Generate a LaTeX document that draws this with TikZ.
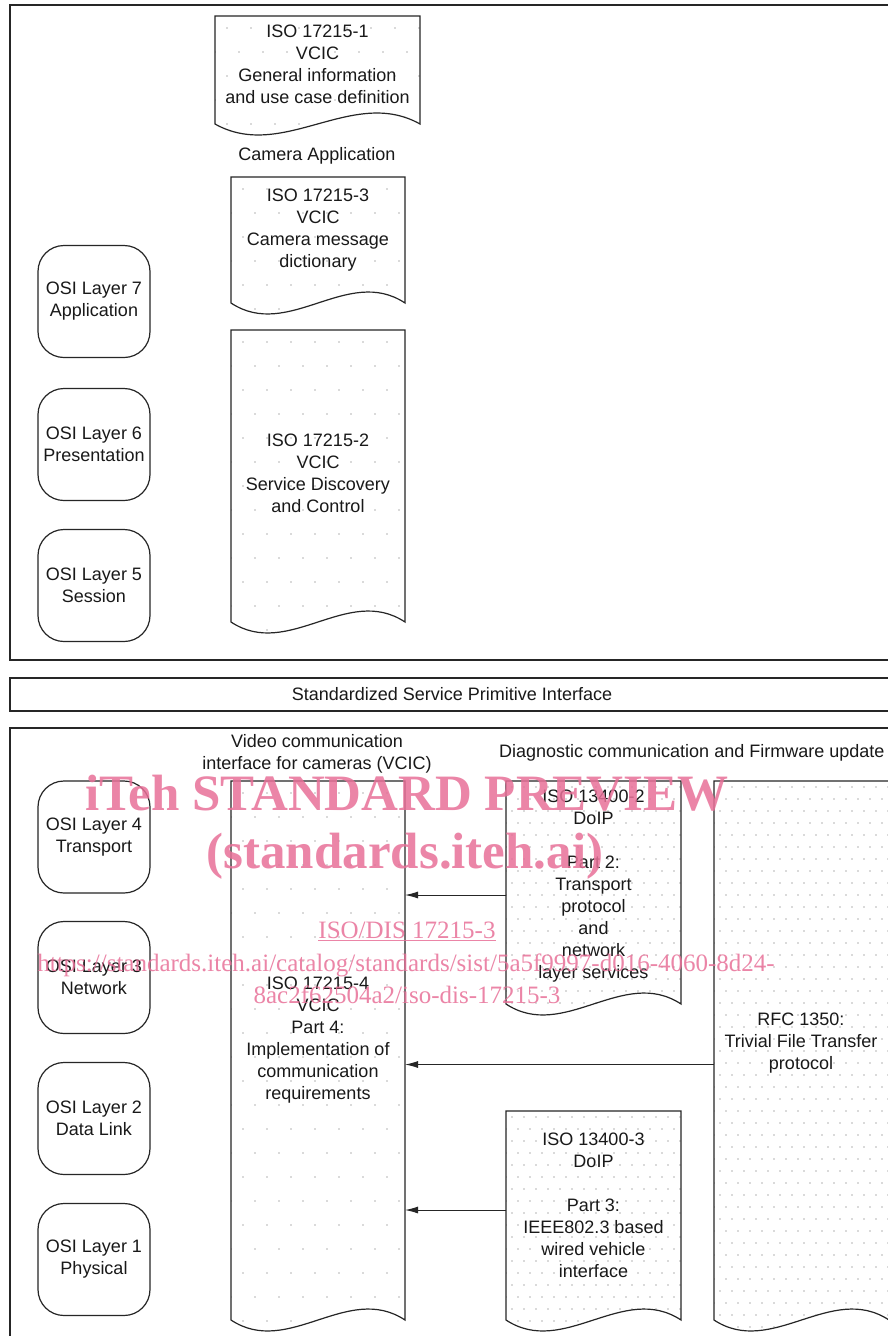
\documentclass[tikz,border=0pt]{standalone}
\usepackage{fontspec}
\setmainfont{Liberation Sans}
\newfontfamily\wmfont{Liberation Serif}
\usetikzlibrary{calc,arrows.meta}
\pgfdeclarelayer{bg}
\pgfsetlayers{bg,main}
\definecolor{ln}{gray}{0.15}
\definecolor{dotc}{gray}{0.38}
\definecolor{wm}{RGB}{232,112,152}
\tikzset{
  every node/.style={font=\fontsize{18}{22}\selectfont, text=black!90},
  osi/.style={draw=ln, line width=1.2pt, rounded corners=26pt, minimum width=112pt, minimum height=112pt, align=center, inner sep=0pt},
  docnode/.style={draw=none, inner sep=0pt, outer sep=0pt},
  doctext/.style={align=center, inner sep=0pt},
  frame/.style={draw=ln, line width=1.2pt, inner sep=0pt, outer sep=0pt},
  outline/.style={draw=ln, line width=1.2pt, line join=miter},
  arr/.style={draw=ln, line width=1pt, -{Latex[length=13pt,width=7pt]}},
  wmbig/.style={text=wm, font=\wmfont\bfseries\fontsize{51}{51}\selectfont, text opacity=0.85, inner sep=0pt},
  wmsmall/.style={text=wm, font=\wmfont\fontsize{25}{25}\selectfont, text opacity=0.85, inner sep=0pt},
  label/.style={align=center, inner sep=0pt}
}
\newcommand\docpath[1]{(#1.north west) -- (#1.north east) -- (#1.south east)
  .. controls ($(#1.south west)!0.67!(#1.south east)+(0,-38)$) and ($(#1.south west)!0.33!(#1.south east)+(0,38)$) .. (#1.south west) -- cycle}
\newcommand\mkdoc[6]{%
  \node[docnode, minimum width={(#4)-(#2)}, minimum height={(#5)-(#3)}] (#1) at ({((#2)+(#4))/2},{((#3)+(#5))/2}) {};
  \begin{pgfonlayer}{bg}
    \begin{scope}
      \clip \docpath{#1};
      \pgfmathtruncatemacro\nr{((#5)-(#3)+20)/(#6)}
      \pgfmathtruncatemacro\nc{((#4)-(#2))/(#6)+1}
      \foreach \r in {0,...,\nr}{\foreach \c in {0,...,\nc}{
        \fill[dotc] ({#2+#6/2+\c*#6-mod(\r,2)*#6/2},{#3+#6/2+\r*#6}) circle (0.6pt);}}
    \end{scope}
  \end{pgfonlayer}
  \draw[outline] \docpath{#1};
}
\begin{document}
\begin{tikzpicture}[x={(1pt,0)}, y={(0,-1pt)}]
\useasboundingbox (0,0) rectangle (888,1336);
\clip (0,0) rectangle (888,1336);
\begin{pgfonlayer}{bg}
\fill[white] (0,0) rectangle (888,1336);
\end{pgfonlayer}

% frames
\node[frame, minimum width=884pt, minimum height=655pt] (top) at (452,332.5) {};
\node[frame, minimum width=884pt, minimum height=33pt] (bar) at (452,694.5) {Standardized Service Primitive Interface};
\node[frame, minimum width=884pt, minimum height=640pt] (bot) at (452,1048) {};

% OSI layers
\node[osi] (l7) at (94,301.5) {OSI Layer 7\\Application};
\node[osi] (l6) at (94,444.5) {OSI Layer 6\\Presentation};
\node[osi] (l5) at (94,585.5) {OSI Layer 5\\Session};
\node[osi] (l4) at (94,837) {OSI Layer 4\\Transport};
\node[osi] (l3) at (94,977.5) {OSI Layer 3\\Network};
\node[osi] (l2) at (94,1118.5) {OSI Layer 2\\Data Link};
\node[osi] (l1) at (94,1259.5) {OSI Layer 1\\Physical};

% documents
\mkdoc{d1}{215}{16}{420}{124}{24}
\node[doctext] (d1t) at (317.5,64) {ISO 17215-1\\VCIC\\General information\\and use case definition};
\node[label] (cam) at (317,156) {Camera Application};
\mkdoc{d3}{231}{177}{405}{303}{24}
\node[doctext] (d3t) at (318,230.5) {ISO 17215-3\\VCIC\\Camera message\\dictionary};
\mkdoc{d2}{231}{330}{405}{622}{24}
\node[doctext] (d2t) at (318,473.5) {ISO 17215-2\\VCIC\\Service Discovery\\and Control};

\node[label] (vcic) at (317,753.5) {Video communication\\interface for cameras (VCIC)};
\node[label, anchor=west] (diag) at (499,752.5) {Diagnostic communication and Firmware update};

\mkdoc{d4}{231}{781}{405}{1320}{24}
\node[doctext] (d4t) at (318,1040.5) {ISO 17215-4\\VCIC\\Part 4:\\Implementation of\\communication\\requirements};
\mkdoc{d5}{506}{781}{681}{1004}{12}
\node[doctext] (d5t) at (593.5,886.5) {ISO 13400-2\\DoIP\\[22pt]Part 2:\\Transport\\protocol\\and\\network\\layer services};
\mkdoc{d6}{506}{1111}{681}{1320}{12}
\node[doctext] (d6t) at (593.5,1205.5) {ISO 13400-3\\DoIP\\[22pt]Part 3:\\IEEE802.3 based\\wired vehicle\\interface};
\mkdoc{d7}{714}{781}{889}{1320}{12}
\node[doctext] (d7t) at (801,1043.5) {RFC 1350:\\Trivial File Transfer\\protocol};

% arrows
\coordinate (a1) at ($(d5.west)+(0,2.5)$);
\draw[arr] (a1) -- (a1 -| d4.east);
\coordinate (a2) at ($(d7.west)+(0,14)$);
\draw[arr] (a2) -- (a2 -| d4.east);
\coordinate (a3) at ($(d6.west)+(0,-5.5)$);
\draw[arr] (a3) -- (a3 -| d4.east);

% watermark
\node[wmbig] (w1) at (407,793) {iTeh STANDARD PREVIEW};
\node[wmbig] (w2) at (405,856) {(standards.iteh.ai)};
\node[wmsmall] (w3) at (407,931) {\underline{ISO/DIS 17215-3}};
\node[wmsmall] (w4) at (406,965) {https://standards.iteh.ai/catalog/standards/sist/5a5f9997-d016-4060-8d24-};
\node[wmsmall] (w5) at (407,995) {8ac2f62504a2/iso-dis-17215-3};
\end{tikzpicture}
\end{document}
